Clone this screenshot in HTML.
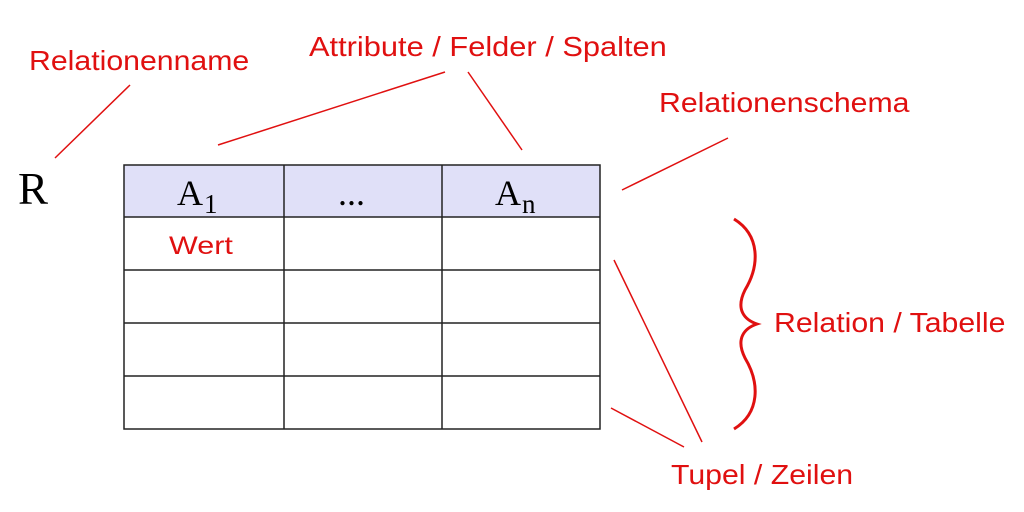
<!DOCTYPE html>
<html><head><style>
body{margin:0;width:1024px;height:512px;background:#fff;overflow:hidden;position:relative}
.t{position:absolute;font-family:"Liberation Sans",sans-serif;color:#e01010;font-size:28px;white-space:nowrap;line-height:1;transform-origin:0 0;transform:scaleX(1.08)}
.s{position:absolute;font-family:"Liberation Serif",serif;color:#000;line-height:1;white-space:nowrap}
.s sub{font-size:27px;vertical-align:baseline;position:relative;top:8px;margin-left:1px}
</style></head><body>
<svg width="1024" height="512" style="position:absolute;left:0;top:0">
<rect x="124" y="165" width="476" height="52" fill="#e0e0f8"/>
<g stroke="#222" stroke-width="1.5" fill="none">
<rect x="124" y="165" width="476" height="264"/>
<line x1="124" y1="217" x2="600" y2="217"/>
<line x1="124" y1="270" x2="600" y2="270"/>
<line x1="124" y1="323" x2="600" y2="323"/>
<line x1="124" y1="376" x2="600" y2="376"/>
<line x1="284" y1="165" x2="284" y2="429"/>
<line x1="442" y1="165" x2="442" y2="429"/>
</g>
<g stroke="#e01010" stroke-width="1.5" fill="none">
<line x1="55" y1="158" x2="130" y2="85"/>
<line x1="218" y1="145" x2="445" y2="72"/>
<line x1="468" y1="72" x2="522" y2="150"/>
<line x1="622" y1="190" x2="728" y2="138"/>
<line x1="614" y1="260" x2="702" y2="442"/>
<line x1="611" y1="408" x2="684" y2="447"/>
<path d="M734 219 C760 235 760 265 745 290 C735 310 745 320 757 324 C745 328 735 338 745 358 C760 383 760 413 734 429" stroke-width="3"/>
</g>
</svg>
<div class="t" style="left:29px;top:47px">Relationenname</div>
<div class="t" style="left:309px;top:33px;transform:scaleX(1.1)">Attribute / Felder / Spalten</div>
<div class="t" style="left:659px;top:89px">Relationenschema</div>
<div class="t" style="left:774px;top:309px">Relation / Tabelle</div>
<div class="t" style="left:671px;top:461px">Tupel / Zeilen</div>
<div class="t" style="left:169px;top:234px;font-size:25px;transform:scaleX(1.22)">Wert</div>
<div class="s" style="left:18px;top:167px;font-size:45px">R</div>
<div class="s" style="left:177px;top:175px;font-size:36px">A<sub>1</sub></div>
<div class="s" style="left:338px;top:175px;font-size:36px">...</div>
<div class="s" style="left:495px;top:175px;font-size:36px">A<sub>n</sub></div>
</body></html>
